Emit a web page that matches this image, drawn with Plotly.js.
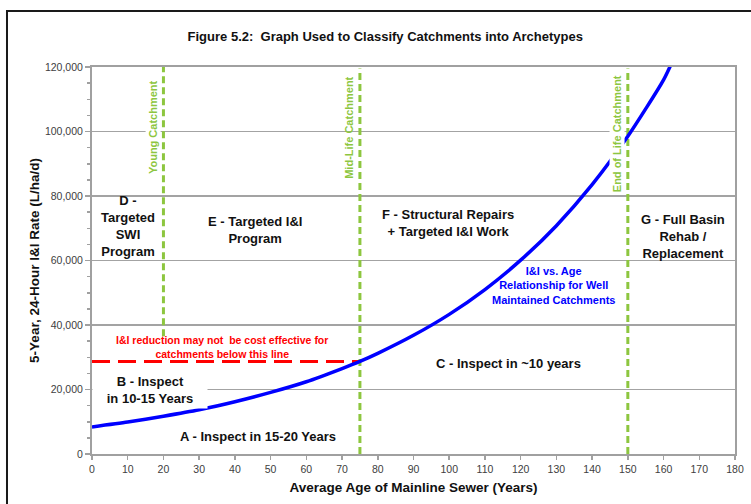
<!DOCTYPE html>
<html>
<head>
<meta charset="utf-8">
<script src="https://cdn.plot.ly/plotly-3.0.1.min.js"></script>
<style>html,body{margin:0;padding:0;background:#fff;}#chart{width:751px;height:504px;}</style>
</head>
<body>
<div id="chart"></div>
<script>
// ---- data ----
const curveAge = [0, 10, 20, 30, 40, 50, 60, 70, 75, 80, 90, 100, 110, 120, 130, 140, 150, 160, 163];
const curveRate = [8400, 9900, 11700, 13700, 16200, 19100, 22400, 26500, 28700, 31200, 36800, 43300, 51000, 60100, 70800, 83500, 98500, 116000, 123000];
const thresholdAge = [0, 75];
const thresholdRate = [28700, 28700];
const stageAges = [20, 75, 150];
const stageBottom = [36500, 0, 0];
const stageTop = [120000, 119500, 119500];
const stageNames = ["Young Catchment", "Mid-Life Catchment", "End of Life Catchment"];
const xTicks = [0, 10, 20, 30, 40, 50, 60, 70, 80, 90, 100, 110, 120, 130, 140, 150, 160, 170, 180];
const yTicks = [0, 20000, 40000, 60000, 80000, 100000, 120000];

const FONT = "Liberation Sans, Arial, sans-serif";
const GREEN = "#8dc63f";

// green stage lines as one trace with gaps
const gx = [], gy = [];
stageAges.forEach((a, i) => { gx.push(a, a, null); gy.push(stageBottom[i], stageTop[i], null); });

const traces = [
  {x: gx, y: gy, mode: "lines", line: {color: GREEN, width: 3, dash: "7px,4px"}, hoverinfo: "skip", showlegend: false},
  {x: thresholdAge, y: thresholdRate, mode: "lines", line: {color: "#ff0000", width: 3, dash: "18px,8px"}, showlegend: false},
  {x: curveAge, y: curveRate, mode: "lines", line: {color: "#0000ff", width: 3.5, shape: "spline", smoothing: 0.6}, showlegend: false}
];

const blk = {family: FONT, size: 13, color: "#111", weight: "bold"};
function lab(text, x, y, extra) {
  return Object.assign({text: text, x: x, y: y, xref: "x", yref: "y", showarrow: false, font: blk, align: "center"}, extra || {});
}
const annotations = [
  lab("D -<br>Targeted<br>SWI<br>Program", 10.1, 70600),
  lab("E - Targeted I&amp;I<br>Program", 45.6, 69500),
  lab("F - Structural Repairs<br>+ Targeted I&amp;I Work", 99.7, 71600),
  lab("G - Full Basin<br>Rehab /<br>Replacement", 165.4, 67300),
  lab("C - Inspect in ~10 years", 116.5, 28200),
  lab("B - Inspect<br>in 10-15 Years", 16.2, 19850, {bgcolor: "#ffffff", width: 110, borderpad: 2}),
  lab("A - Inspect in 15-20 Years", 46.5, 5300),
  lab("I&amp;I vs. Age<br>Relationship for Well<br>Maintained Catchments", 129.3, 52100, {font: {family: FONT, size: 11, color: "#0000ff", weight: "bold"}}),
  lab("I&amp;I reduction may not  be cost effective for<br>catchments below this line", 36.4, 33300, {font: {family: FONT, size: 10.5, color: "#ff0000", weight: "bold"}}),
  lab(stageNames[0], 17.1, 101400, {textangle: -90, font: {family: FONT, size: 11, color: GREEN, weight: "bold"}, bgcolor: "#ffffff"}),
  lab(stageNames[1], 71.9, 101100, {textangle: -90, font: {family: FONT, size: 11, color: GREEN, weight: "bold"}}),
  lab(stageNames[2], 147.0, 99200, {textangle: -90, font: {family: FONT, size: 11, color: GREEN, weight: "bold"}, bgcolor: "#ffffff"})
];

const layout = {
  width: 751, height: 504,
  margin: {l: 92, r: 16, t: 67, b: 50},
  paper_bgcolor: "#ffffff", plot_bgcolor: "#ffffff",
  font: {family: FONT, size: 10.5, color: "#404040"},
  title: {text: "Figure 5.2:  Graph Used to Classify Catchments into Archetypes", font: {family: FONT, size: 13, color: "#111", weight: "bold"}, x: 0.513, xanchor: "center", y: 0.9286, yanchor: "middle"},
  xaxis: {
    range: [0, 180], tickvals: xTicks, ticks: "outside", ticklen: 4, tickcolor: "#a0a0a0", tickwidth: 1.5,
    showline: true, linecolor: "#a0a0a0", linewidth: 2, mirror: true, showgrid: false, zeroline: false,
    tickfont: {family: FONT, size: 10.5, color: "#404040"},
    title: {text: "Average Age of Mainline Sewer (Years)", font: {family: FONT, size: 13.5, color: "#111", weight: "bold"}, standoff: 9}
  },
  yaxis: {
    range: [0, 120000], tickvals: yTicks, tickformat: ",d", ticks: "outside", ticklen: 5, tickcolor: "#a0a0a0", tickwidth: 1.5,
    minor: {dtick: 5000, ticks: "outside", ticklen: 3, tickcolor: "#a0a0a0", showgrid: false},
    showline: true, linecolor: "#a0a0a0", linewidth: 2, mirror: true, showgrid: true, gridcolor: "#a3a3a3", gridwidth: 1.5, zeroline: false,
    tickfont: {family: FONT, size: 10.5, color: "#404040"},
    title: {text: "5-Year, 24-Hour I&amp;I Rate (L/ha/d)", font: {family: FONT, size: 13.5, color: "#111", weight: "bold"}, standoff: 2}
  },
  shapes: [
    {type: "rect", xref: "paper", yref: "paper", x0: -0.1322, x1: 1.05, y0: -0.2, y1: 1.1447, line: {color: "#1a1a1a", width: 2}, fillcolor: "rgba(0,0,0,0)", layer: "above"}
  ],
  annotations: annotations
};

Plotly.newPlot("chart", traces, layout, {displayModeBar: false, staticPlot: true});
</script>
</body>
</html>
